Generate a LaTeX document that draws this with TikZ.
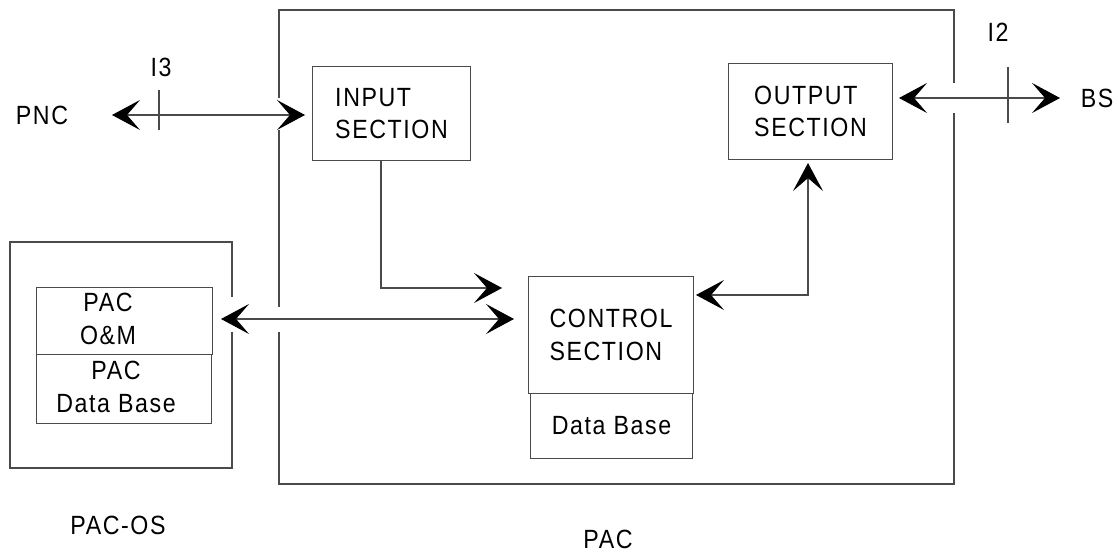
\documentclass[tikz,border=0pt]{standalone}
\usepackage{fontspec}
\setmainfont{Liberation Sans}[FakeStretch=0.88,LetterSpace=6]
\usetikzlibrary{arrows.meta}
\definecolor{PacLine}{HTML}{4A4A4A}
\definecolor{PacInk}{HTML}{000000}
\newcommand\pactext{\fontsize{15}{18.5}\selectfont}

\begin{document}
\begin{tikzpicture}[x=0.02cm,y=-0.02cm,
  box/.style={draw=PacLine,line width=.6pt,inner sep=0pt,anchor=north west,align=left,font=\pactext,text=PacInk},
  lbl/.style={inner sep=0pt,font=\pactext,text=PacInk},
  link/.style={draw=PacLine,line width=.6pt},
  >={Stealth[length=0.56cm,width=0.6cm,inset=0.26cm,color=PacInk]}]
\path[use as bounding box] (0,0) rectangle (1119,553);
\fill[white] (0,0) rectangle (1119,553);
% PAC frame, open where the links pass
\draw[link] (279,98) -- (279,10) -- (954,10) -- (954,83);
\draw[link] (954,113) -- (954,484) -- (279,484) -- (279,332);
\draw[link] (279,307) -- (279,130);
% PAC-OS frame
\draw[link] (232,297) -- (232,242) -- (10,242) -- (10,468) -- (232,468) -- (232,332);
% sections
\node[box,minimum width=3.16cm,minimum height=1.88cm] (input) at (312,66) {INPUT\\SECTION};
\node[box,minimum width=3.28cm,minimum height=1.92cm] (output) at (728,63) {OUTPUT\\SECTION};
\node[box,minimum width=3.30cm,minimum height=2.34cm] (control) at (528,276) {CONTROL\\SECTION};
\node[box,minimum width=3.24cm,minimum height=1.30cm,align=center] (cdb) at (530,393) {Data Base};
\node[box,minimum width=3.52cm,minimum height=1.34cm] (oam) at (36,287) {};
\node[box,minimum width=3.50cm,minimum height=1.38cm] (pdb) at (36,354) {};
\node[lbl,align=center] (oamtxt) at (108,319) {PAC\\O\&M};
\node[lbl,align=center] (pdbtxt) at (116,387) {PAC\\Data Base};
% outside labels
\node[lbl] (pnc) at (42,115) {PNC};
\node[lbl] (bs) at (1097,98) {BS};
\node[lbl] (ithree) at (161,67) {I3};
\node[lbl] (itwo) at (998,32) {I2};
\node[lbl] (pacos) at (118,525) {PAC-OS};
\node[lbl] (pac) at (608,539) {PAC};
% links
\coordinate (pncend) at (112,115);
\coordinate (bsend) at (1060,98);
\coordinate (bend1) at (381,288);
\coordinate (bend2) at (808,295);
\coordinate (omlink) at (400,319);
\draw[link,<->,shorten >=0.14cm] (pncend) -- (pncend -| input.west);
\draw[link,<->,shorten <=0.12cm] (output.east |- bsend) -- (bsend);
\draw[link,->,shorten >=0.52cm] (input.south -| bend1) -- (bend1) -- (bend1 -| control.west);
\draw[link,<->,shorten <=0.16cm,shorten >=0.28cm] (oam.east |- omlink) -- (control.west |- omlink);
\draw[link,<->,shorten <=0.04cm,shorten >=0.06cm] (control.east |- bend2) -- (bend2) -- (bend2 |- output.south);
% interface marks
\draw[link] (159,90) -- (159,130);
\draw[link] (1008,67) -- (1008,123);
\end{tikzpicture}
\end{document}
